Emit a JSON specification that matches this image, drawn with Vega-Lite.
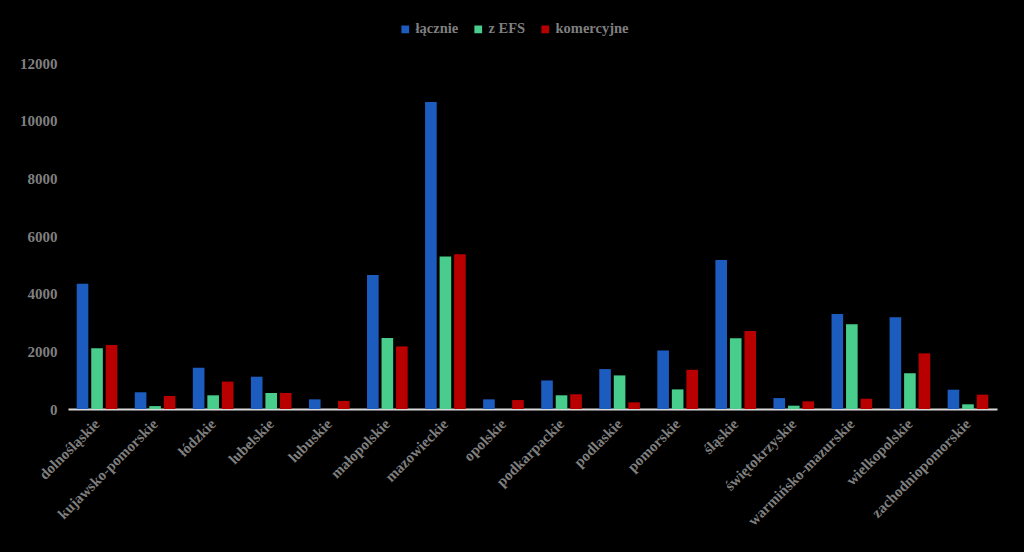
{
  "$schema": "https://vega.github.io/schema/vega-lite/v6.json",
  "autosize": {"type": "none"},
  "width": 929,
  "height": 346,
  "padding": {"left": 68, "top": 63, "right": 27, "bottom": 143},
  "background": "#000000",
  "config": {
    "view": {"stroke": null},
    "font": "Liberation Serif"
  },
  "data": {
    "values": [
      {"woj": "dolnośląskie", "s": "łącznie", "v": 4340},
      {"woj": "dolnośląskie", "s": "z EFS", "v": 2110},
      {"woj": "dolnośląskie", "s": "komercyjne", "v": 2220},
      {"woj": "kujawsko-pomorskie", "s": "łącznie", "v": 580},
      {"woj": "kujawsko-pomorskie", "s": "z EFS", "v": 100},
      {"woj": "kujawsko-pomorskie", "s": "komercyjne", "v": 450},
      {"woj": "łódzkie", "s": "łącznie", "v": 1430},
      {"woj": "łódzkie", "s": "z EFS", "v": 475},
      {"woj": "łódzkie", "s": "komercyjne", "v": 950},
      {"woj": "lubelskie", "s": "łącznie", "v": 1120},
      {"woj": "lubelskie", "s": "z EFS", "v": 555},
      {"woj": "lubelskie", "s": "komercyjne", "v": 555},
      {"woj": "lubuskie", "s": "łącznie", "v": 335},
      {"woj": "lubuskie", "s": "z EFS", "v": 0},
      {"woj": "lubuskie", "s": "komercyjne", "v": 280},
      {"woj": "małopolskie", "s": "łącznie", "v": 4650},
      {"woj": "małopolskie", "s": "z EFS", "v": 2460},
      {"woj": "małopolskie", "s": "komercyjne", "v": 2170},
      {"woj": "mazowieckie", "s": "łącznie", "v": 10650},
      {"woj": "mazowieckie", "s": "z EFS", "v": 5290},
      {"woj": "mazowieckie", "s": "komercyjne", "v": 5370},
      {"woj": "opolskie", "s": "łącznie", "v": 335},
      {"woj": "opolskie", "s": "z EFS", "v": 0},
      {"woj": "opolskie", "s": "komercyjne", "v": 310},
      {"woj": "podkarpackie", "s": "łącznie", "v": 990},
      {"woj": "podkarpackie", "s": "z EFS", "v": 475},
      {"woj": "podkarpackie", "s": "komercyjne", "v": 510},
      {"woj": "podlaskie", "s": "łącznie", "v": 1385},
      {"woj": "podlaskie", "s": "z EFS", "v": 1165},
      {"woj": "podlaskie", "s": "komercyjne", "v": 230},
      {"woj": "pomorskie", "s": "łącznie", "v": 2030},
      {"woj": "pomorskie", "s": "z EFS", "v": 680},
      {"woj": "pomorskie", "s": "komercyjne", "v": 1360},
      {"woj": "śląskie", "s": "łącznie", "v": 5170},
      {"woj": "śląskie", "s": "z EFS", "v": 2450},
      {"woj": "śląskie", "s": "komercyjne", "v": 2705},
      {"woj": "świętokrzyskie", "s": "łącznie", "v": 380},
      {"woj": "świętokrzyskie", "s": "z EFS", "v": 115},
      {"woj": "świętokrzyskie", "s": "komercyjne", "v": 265},
      {"woj": "warmińsko-mazurskie", "s": "łącznie", "v": 3295},
      {"woj": "warmińsko-mazurskie", "s": "z EFS", "v": 2940},
      {"woj": "warmińsko-mazurskie", "s": "komercyjne", "v": 357},
      {"woj": "wielkopolskie", "s": "łącznie", "v": 3180},
      {"woj": "wielkopolskie", "s": "z EFS", "v": 1240},
      {"woj": "wielkopolskie", "s": "komercyjne", "v": 1930},
      {"woj": "zachodniopomorskie", "s": "łącznie", "v": 670},
      {"woj": "zachodniopomorskie", "s": "z EFS", "v": 163},
      {"woj": "zachodniopomorskie", "s": "komercyjne", "v": 497}
    ]
  },
  "mark": {"type": "bar"},
  "encoding": {
    "x": {
      "field": "woj",
      "type": "nominal",
      "sort": null,
      "title": null,
      "scale": {"paddingInner": 0.3, "paddingOuter": 0.15},
      "axis": {
        "labelAngle": -45,
        "labelAlign": "right",
        "labelBaseline": "middle",
        "labelFont": "Liberation Serif",
        "labelFontWeight": "bold",
        "labelFontSize": 15,
        "labelColor": "#7f7f7f",
        "labelLimit": 300,
        "labelPadding": 12,
        "ticks": false,
        "domainColor": "#d9d9d9",
        "domainWidth": 2
      }
    },
    "xOffset": {
      "field": "s",
      "type": "nominal",
      "sort": ["łącznie", "z EFS", "komercyjne"],
      "scale": {"paddingInner": 0.2}
    },
    "y": {
      "field": "v",
      "type": "quantitative",
      "title": null,
      "scale": {"domain": [0, 12000], "nice": false},
      "axis": {
        "values": [0, 2000, 4000, 6000, 8000, 10000, 12000],
        "format": "d",
        "grid": false,
        "domain": false,
        "ticks": false,
        "labelPadding": 11,
        "labelFont": "Liberation Serif",
        "labelFontWeight": "bold",
        "labelFontSize": 15,
        "labelColor": "#7f7f7f"
      }
    },
    "color": {
      "field": "s",
      "type": "nominal",
      "sort": ["łącznie", "z EFS", "komercyjne"],
      "scale": {
        "domain": ["łącznie", "z EFS", "komercyjne"],
        "range": ["#1c5cbe", "#48cd8c", "#b80000"]
      },
      "legend": {
        "title": null,
        "orient": "none",
        "direction": "horizontal",
        "legendX": 330,
        "legendY": -41,
        "symbolType": "square",
        "symbolSize": 60,
        "symbolStrokeWidth": 0,
        "labelFont": "Liberation Serif",
        "labelFontWeight": "bold",
        "labelFontSize": 14.5,
        "labelColor": "#7f7f7f",
        "labelOffset": 3,
        "columnPadding": 12
      }
    }
  }
}
